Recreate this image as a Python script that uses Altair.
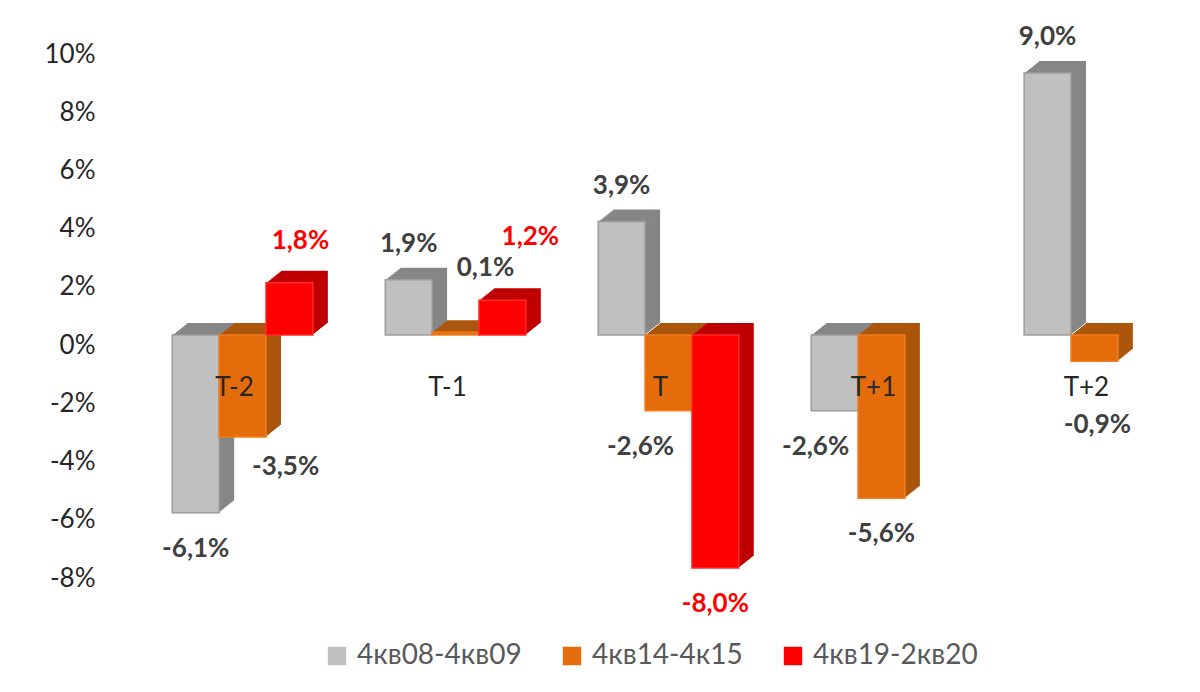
import altair as alt
import pandas as pd

# ---------------- data ----------------
categories = ["T-2", "T-1", "T", "T+1", "T+2"]
series_names = ["4кв08-4кв09", "4кв14-4к15", "4кв19-2кв20"]
values_0809 = [-6.1, 1.9, 3.9, -2.6, 9.0]
values_1415 = [-3.5, 0.1, -2.6, -5.6, -0.9]
values_1920 = [1.8, 1.2, -8.0, None, None]
y_ticks = [-8, -6, -4, -2, 0, 2, 4, 6, 8, 10]

# ---------------- style ----------------
front_colors = ["#C0C0C0", "#E46C0A", "#FF0000"]
depth_colors = ["#868686", "#AC560C", "#C00000"]
edge_colors = ["#9C9C9C", "#F07E20", "#FF2A2A"]
label_colors = ["#404040", "#404040", "#FF0000"]
FONT = "Lato"

PLOT_W, PLOT_H = 1035, 524
PAD_IN, PAD_OUT = 0.34, 0.1
STEP = PLOT_W / (len(categories) - PAD_IN + 2 * PAD_OUT)
BANDW = STEP * (1 - PAD_IN)
N_DEPTH = 12
DEPTH_STEPS = [(15 * k / N_DEPTH, -12 * k / N_DEPTH) for k in range(N_DEPTH, 0, -1)]

# label nudges in pixels (Excel moved these labels to avoid overlaps)
nudges = {
    ("T-2", 1): (43, 30),
    ("T-2", 2): (11, -42),
    ("T-1", 1): (30, -64),
    ("T-1", 2): (28, -63),
    ("T", 1): (-28, 36),
    ("T+1", 0): (-19, 36),
    ("T+2", 1): (3, 64),
}

rows = []
for si, (name, vals) in enumerate(zip(series_names, [values_0809, values_1415, values_1920])):
    for cat, v in zip(categories, vals):
        if v is None:
            continue
        dx, dy = nudges.get((cat, si), (0, -36 if v >= 0 else 36))
        rows.append({
            "category": cat,
            "series": name,
            "value": v,
            "label": f"{v:.1f}".replace(".", ",") + "%",
            "depth": depth_colors[si],
            "edge": edge_colors[si],
            "lcolor": label_colors[si],
            "dx": dx,
            "dy": dy,
        })
df = pd.DataFrame(rows)
cat_df = pd.DataFrame({"category": categories})

x_enc = alt.X("category:N", sort=categories,
              scale=alt.Scale(type="band", domain=categories,
                              paddingInner=PAD_IN, paddingOuter=PAD_OUT),
              axis=None)


def xo(shift):
    return alt.XOffset("series:N", sort=series_names,
                       scale=alt.Scale(type="band", domain=series_names,
                                       range=[shift, BANDW + shift],
                                       paddingInner=0, paddingOuter=0))


y_enc = alt.Y("value:Q",
              scale=alt.Scale(domain=[-8, 10], nice=False),
              axis=alt.Axis(values=y_ticks, labelExpr="datum.value + '%'", grid=False,
                            domain=False, ticks=False, labelPadding=56, labelOffset=10,
                            labelFontSize=26, labelFont=FONT, labelColor="#262626",
                            title=None))

base = alt.Chart(df)

depth_layers = [
    base.mark_bar(yOffset=dy, y2Offset=dy, stroke=None).encode(
        x=x_enc, xOffset=xo(dx), y=y_enc,
        color=alt.Color("depth:N", scale=None),
    )
    for dx, dy in DEPTH_STEPS
]

front = base.mark_bar(strokeWidth=1.5).encode(
    x=x_enc, xOffset=xo(0), y=y_enc,
    color=alt.Color("series:N",
                    scale=alt.Scale(domain=series_names, range=front_colors),
                    legend=alt.Legend(orient="none", legendX=172, legendY=598,
                                      direction="horizontal", title=None,
                                      symbolType="square", symbolSize=340,
                                      symbolStrokeColor="#8a8a8a", symbolStrokeWidth=1,
                                      labelFontSize=28, labelFont=FONT,
                                      labelColor="#595959", columnPadding=36,
                                      labelOffset=6, labelLimit=0)),
    stroke=alt.Stroke("edge:N", scale=None),
)

labels = base.mark_text(fontSize=26, fontWeight="bold", font=FONT,
                        dx=alt.expr("datum.dx"), dy=alt.expr("datum.dy")).encode(
    x=x_enc, xOffset=xo(0), y=y_enc,
    text="label:N",
    color=alt.Color("lcolor:N", scale=None),
)

cat_labels = alt.Chart(cat_df).mark_text(fontSize=26, font=FONT, color="#262626",
                                         dy=53, dx=-8).encode(
    x=x_enc,
    y=alt.datum(0),
    text="category:N",
)

chart = alt.layer(*depth_layers, front, labels, cat_labels).resolve_scale(
    xOffset="independent"
).properties(
    width=PLOT_W, height=PLOT_H,
    autosize=alt.AutoSizeParams(type="none"),
    padding={"left": 143, "top": 36, "right": 6, "bottom": 116},
).configure_view(stroke=None)

chart.save("out.html", embed_options={"renderer": "svg", "actions": False})
